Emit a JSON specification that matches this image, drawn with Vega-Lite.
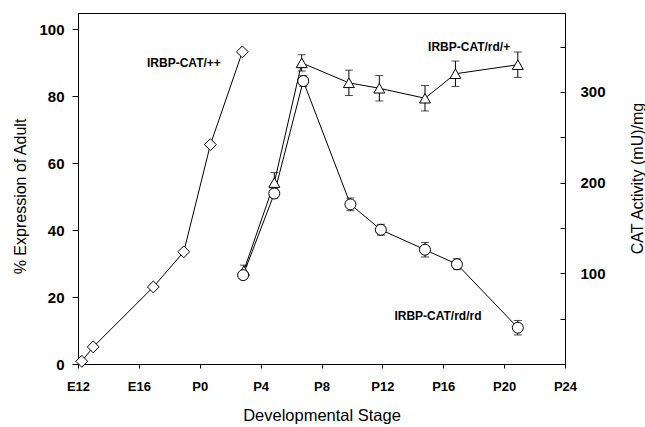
{
  "$schema": "https://vega.github.io/schema/vega-lite/v6.json",
  "width": 487,
  "height": 351,
  "autosize": {"type": "none"},
  "padding": {"left": 78, "top": 13, "right": 80, "bottom": 63},
  "background": "white",
  "config": {
    "view": {"stroke": "black", "strokeWidth": 1},
    "font": "Liberation Sans",
    "axis": {"grid": false, "domainColor": "black", "tickColor": "black", "labelColor": "black", "titleColor": "black", "labelFont": "Liberation Sans", "titleFont": "Liberation Sans", "titleFontWeight": "normal", "labelFlush": false}
  },
  "datasets": {
    "wt": [
      {"day": -7.75, "pct": 0.8},
      {"day": -7.0, "pct": 5.1},
      {"day": -3.05, "pct": 23},
      {"day": -1.05, "pct": 33.5},
      {"day": 0.7, "pct": 65.5},
      {"day": 2.8, "pct": 93.2}
    ],
    "rd": [
      {"series": "rd/+", "day": 2.9, "cat": 103, "lo": 97, "hi": 109},
      {"series": "rd/+", "day": 4.9, "cat": 200, "lo": 189, "hi": 211},
      {"series": "rd/+", "day": 6.7, "cat": 332, "lo": 323, "hi": 341},
      {"series": "rd/+", "day": 9.8, "cat": 310, "lo": 296, "hi": 324},
      {"series": "rd/+", "day": 11.8, "cat": 304, "lo": 290, "hi": 318},
      {"series": "rd/+", "day": 14.8, "cat": 293, "lo": 279, "hi": 307},
      {"series": "rd/+", "day": 16.8, "cat": 320, "lo": 306, "hi": 334},
      {"series": "rd/+", "day": 20.9, "cat": 330, "lo": 316, "hi": 344},
      {"series": "rd/rd", "day": 2.85, "cat": 98, "lo": 94, "hi": 102},
      {"series": "rd/rd", "day": 4.9, "cat": 188, "lo": 183, "hi": 193},
      {"series": "rd/rd", "day": 6.8, "cat": 312, "lo": 306, "hi": 318},
      {"series": "rd/rd", "day": 9.9, "cat": 176, "lo": 169, "hi": 183},
      {"series": "rd/rd", "day": 11.9, "cat": 148, "lo": 142, "hi": 154},
      {"series": "rd/rd", "day": 14.8, "cat": 126, "lo": 118, "hi": 134},
      {"series": "rd/rd", "day": 16.9, "cat": 110, "lo": 104, "hi": 116},
      {"series": "rd/rd", "day": 20.9, "cat": 40, "lo": 32, "hi": 48}
    ],
    "lblL": [{"day": -1.04, "pct": 89.9, "text": "IRBP-CAT/++"}],
    "lblR": [
      {"day": 17.7, "cat": 350, "text": "IRBP-CAT/rd/+"},
      {"day": 15.65, "cat": 53, "text": "IRBP-CAT/rd/rd"}
    ]
  },
  "encoding": {
    "x": {
      "field": "day", "type": "quantitative",
      "scale": {"domain": [-8, 24], "nice": false, "zero": false},
      "axis": {
        "title": "Developmental Stage", "titleFontSize": 16.5, "titlePadding": 14,
        "values": [-8, -4, 0, 4, 8, 12, 16, 20, 24],
        "labelExpr": "datum.value < 0 ? 'E' + (20 + datum.value) : 'P' + datum.value",
        "labelFontSize": 13, "labelFontWeight": "bold", "labelPadding": 12, "tickSize": 4
      }
    }
  },
  "layer": [
    {
      "encoding": {
        "y": {
          "field": "pct", "type": "quantitative",
          "scale": {"domain": [0, 104.8], "nice": false},
          "axis": {
            "orient": "left", "title": "% Expression of Adult", "titleFontSize": 16,
            "values": [0, 20, 40, 60, 80, 100], "labelFontSize": 15, "labelFontWeight": "bold",
            "tickSize": 6, "labelPadding": 8, "titleX": -58, "titleY": 183, "titleBaseline": "middle"
          }
        }
      },
      "layer": [
        {"data": {"name": "wt"}, "mark": {"type": "line", "color": "black", "strokeWidth": 1}},
        {"data": {"name": "wt"}, "mark": {"type": "point", "shape": "diamond", "filled": true, "fill": "white", "stroke": "black", "strokeWidth": 1, "size": 140, "opacity": 1}},
        {"data": {"name": "lblL"}, "mark": {"type": "text", "fontSize": 12, "fontWeight": "bold", "color": "black"}, "encoding": {"text": {"field": "text"}}}
      ]
    },
    {
      "encoding": {
        "y": {
          "field": "cat", "type": "quantitative",
          "scale": {"domain": [0, 387], "nice": false},
          "axis": {
            "orient": "right", "title": "CAT Activity  (mU)/mg", "titleFontSize": 16,
            "values": [0, 50, 100, 150, 200, 250, 300, 350],
            "labelExpr": "datum.value > 0 && datum.value % 100 == 0 ? datum.label : ''",
            "labelFontSize": 15, "labelFontWeight": "bold",
            "tickSize": -5, "labelPadding": 20,
            "titleAngle": 270, "titleBaseline": "middle", "titleX": 72, "titleY": 165
          }
        }
      },
      "layer": [
        {"data": {"name": "rd"}, "mark": {"type": "line", "color": "black", "strokeWidth": 1}, "encoding": {"detail": {"field": "series"}}},
        {"data": {"name": "rd"}, "mark": {"type": "rule", "color": "black", "strokeWidth": 1}, "encoding": {"y": {"field": "lo", "type": "quantitative"}, "y2": {"field": "hi"}}},
        {"data": {"name": "rd"}, "mark": {"type": "tick", "orient": "horizontal", "color": "black", "size": 8, "thickness": 1}, "encoding": {"y": {"field": "lo", "type": "quantitative"}}},
        {"data": {"name": "rd"}, "mark": {"type": "tick", "orient": "horizontal", "color": "black", "size": 8, "thickness": 1}, "encoding": {"y": {"field": "hi", "type": "quantitative"}}},
        {"data": {"name": "rd"}, "mark": {"type": "point", "filled": true, "fill": "white", "stroke": "black", "strokeWidth": 1, "size": 120, "opacity": 1},
         "encoding": {"shape": {"field": "series", "type": "nominal", "scale": {"domain": ["rd/+", "rd/rd"], "range": ["triangle-up", "circle"]}, "legend": null}}},
        {"data": {"name": "lblR"}, "mark": {"type": "text", "fontSize": 12, "fontWeight": "bold", "color": "black"}, "encoding": {"text": {"field": "text"}}}
      ]
    }
  ],
  "resolve": {"scale": {"y": "independent"}}
}
